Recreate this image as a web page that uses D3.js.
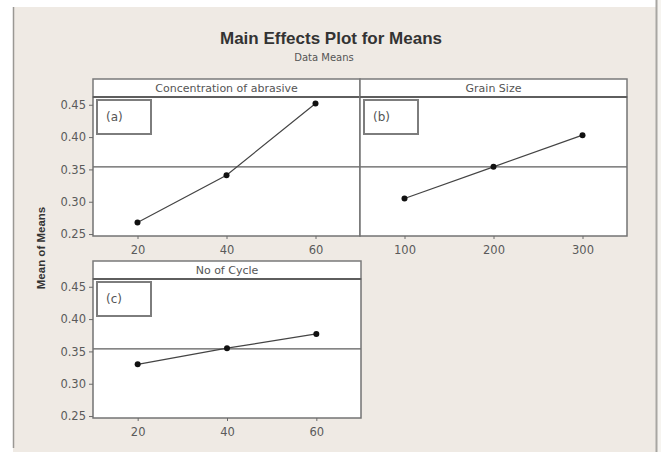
<!DOCTYPE html>
<html>
<head>
<meta charset="utf-8">
<script src="https://cdn.jsdelivr.net/npm/d3@7"></script>
<style>
  body { margin: 0; background: #fff; }
  svg { display: block; font-family: "DejaVu Sans", Verdana, sans-serif; }
  .tick text { fill: #5a5a5a; font-size: 11.5px; font-family: "DejaVu Sans", Verdana, sans-serif; }
  .tick line { stroke: #6a6a6a; }
  .domain { display: none; }
</style>
</head>
<body>
<div id="chart"></div>
<script>
"use strict";

// factor names shown in the strips
var factors = ["Concentration of abrasive", "Grain Size", "No of Cycle"];
var panelTags = ["(a)", "(b)", "(c)"];

// levels and mean of means
var abrasiveLevels = ["20", "40", "60"];
var abrasiveMeans = [0.268, 0.341, 0.452];
var grainLevels = ["100", "200", "300"];
var grainMeans = [0.305, 0.354, 0.403];
var cycleLevels = ["20", "40", "60"];
var cycleMeans = [0.330, 0.355, 0.377];

var yTicks = [0.25, 0.30, 0.35, 0.40, 0.45];

var grandMean = d3.mean(abrasiveMeans.concat(grainMeans, cycleMeans));

var width = 661, height = 452;

var svg = d3.select("#chart").append("svg")
  .attr("width", width)
  .attr("height", height);

// page background + frame borders
svg.append("rect")
  .attr("x", 13).attr("y", 7)
  .attr("width", 644).attr("height", height - 7)
  .style("fill", "#efeae4");
svg.append("rect")
  .attr("x", 657).attr("y", 0)
  .attr("width", 4).attr("height", height)
  .style("fill", "#f6f4f0");
svg.append("line")
  .attr("x1", 13.5).attr("x2", 13.5).attr("y1", 7).attr("y2", 448)
  .style("stroke", "#9a9894").style("stroke-width", 1.5);
svg.append("line")
  .attr("x1", 656.5).attr("x2", 656.5).attr("y1", 0).attr("y2", height)
  .style("stroke", "#a8a6a2").style("stroke-width", 2);

svg.append("text")
  .attr("x", 331).attr("y", 44)
  .attr("text-anchor", "middle")
  .style("font-family", "'Liberation Sans', Arial, sans-serif")
  .style("font-size", "17px").style("font-weight", "bold").style("fill", "#333")
  .text("Main Effects Plot for Means");
svg.append("text")
  .attr("x", 324).attr("y", 61)
  .attr("text-anchor", "middle")
  .style("font-size", "10px").style("fill", "#555")
  .text("Data Means");

svg.append("text")
  .attr("transform", "translate(45,248) rotate(-90)")
  .attr("text-anchor", "middle")
  .style("font-family", "'Liberation Sans', Arial, sans-serif")
  .style("font-size", "11.5px").style("font-weight", "bold").style("fill", "#333")
  .text("Mean of Means");

var panels = [
  { levels: abrasiveLevels, means: abrasiveMeans, x0: 93, x1: 360, top: 79 },
  { levels: grainLevels, means: grainMeans, x0: 360, x1: 627, top: 79 },
  { levels: cycleLevels, means: cycleMeans, x0: 93, x1: 361, top: 261 }
];

var stripH = 18, plotH = 139;

panels.forEach(function(p, i) {
  var plotTop = p.top + stripH,
    plotBottom = plotTop + plotH;

  var x = d3.scalePoint()
    .domain(p.levels)
    .range([p.x0, p.x1])
    .padding(0.5);
  var y = d3.scaleLinear()
    .domain([0.247, 0.462])
    .range([plotBottom, plotTop]);

  var g = svg.append("g");

  g.append("rect")
    .attr("x", p.x0).attr("y", plotTop)
    .attr("width", p.x1 - p.x0).attr("height", plotH)
    .style("fill", "#fff");

  // grand mean reference line
  g.append("line")
    .attr("x1", p.x0).attr("x2", p.x1)
    .attr("y1", y(grandMean)).attr("y2", y(grandMean))
    .style("stroke", "#5c5c5c").style("stroke-width", 1.2);

  // tag box
  g.append("rect")
    .attr("x", p.x0 + 4).attr("y", plotTop + 3)
    .attr("width", 54).attr("height", 34)
    .style("fill", "#fff").style("stroke", "#7d7d7d").style("stroke-width", 2);
  g.append("text")
    .attr("x", p.x0 + 13).attr("y", plotTop + 24)
    .style("font-size", "12px").style("fill", "#555")
    .text(panelTags[i]);

  // frame
  g.append("rect")
    .attr("x", p.x0).attr("y", plotTop)
    .attr("width", p.x1 - p.x0).attr("height", plotH)
    .style("fill", "none").style("stroke", "#737373").style("stroke-width", 1.5);

  // strip
  g.append("rect")
    .attr("x", p.x0).attr("y", p.top)
    .attr("width", p.x1 - p.x0).attr("height", stripH)
    .style("fill", "#fff").style("stroke", "#7a7a7a").style("stroke-width", 1.5);
  g.append("line")
    .attr("x1", p.x0).attr("x2", p.x1)
    .attr("y1", plotTop).attr("y2", plotTop)
    .style("stroke", "#5e5e5e").style("stroke-width", 2);
  g.append("text")
    .attr("x", (p.x0 + p.x1) / 2).attr("y", p.top + 13)
    .attr("text-anchor", "middle")
    .style("font-size", "11px").style("fill", "#555")
    .text(factors[i]);

  // axes
  g.append("g")
    .attr("transform", "translate(0," + plotBottom + ")")
    .call(d3.axisBottom(x).tickSize(3).tickPadding(7));
  if (p.x0 < 100) {
    g.append("g")
      .attr("transform", "translate(" + p.x0 + ",0)")
      .call(d3.axisLeft(y).tickValues(yTicks).tickFormat(d3.format(".2f")).tickSize(4).tickPadding(3));
  }

  // effect line and points
  var pts = p.levels.map(function(l, k) { return [x(l), y(p.means[k])]; });
  g.append("path")
    .attr("d", d3.line()(pts))
    .style("fill", "none").style("stroke", "#444").style("stroke-width", 1.2);
  g.selectAll(".pt")
    .data(pts)
    .enter().append("circle")
    .attr("class", "pt")
    .attr("cx", function(d) { return d[0]; })
    .attr("cy", function(d) { return d[1]; })
    .attr("r", 3)
    .style("fill", "#111");
});
</script>
</body>
</html>
